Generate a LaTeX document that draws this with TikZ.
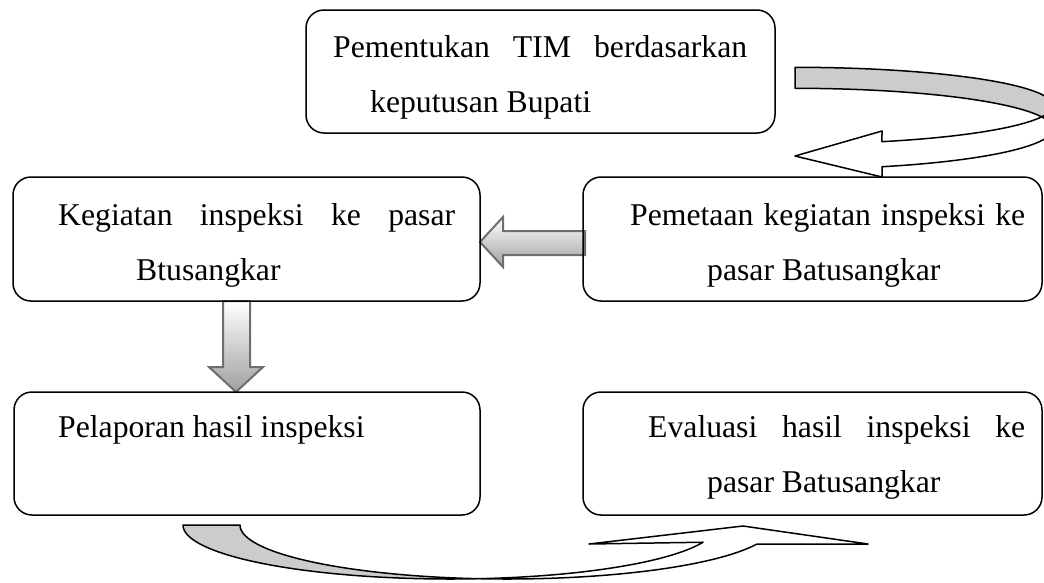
\documentclass[tikz,border=0pt]{standalone}
\usepackage{fontspec}
\setmainfont{Liberation Serif}
\definecolor{arrowedge}{HTML}{6E6E6E}
\definecolor{bandgrey}{HTML}{CCCCCC}
\begin{document}
\begin{tikzpicture}[x=1pt,y=-1pt,
  box/.style={draw=black, line width=1.5pt, rounded corners=18pt, inner sep=0pt},
  txt/.style={anchor=base west, inner sep=0pt, align=justify,
    font=\fontsize{31.7}{55}\selectfont, execute at begin node={\tolerance=10000\relax}},
  band/.style={line width=1.5pt, draw=black, line join=round},
  blockarrow/.style={top color=white, bottom color=gray!75, draw=arrowedge, line width=2pt, line join=miter}]
\useasboundingbox (0,0) rectangle (1044,582);
\clip (0,0) rectangle (1044,582);

% curved arrow: top box -> Pemetaan box
\filldraw[band, fill=bandgrey]
  plot[domain=-90:17.07, samples=80, variable=\t] ({795+258*cos(\t)},{105.6+38.3*sin(\t)})
  -- plot[domain=-17.07:-90, samples=80, variable=\t] ({795+258*cos(\t)},{128.7+40.4*sin(\t)})
  -- cycle;
\filldraw[band, fill=white]
  plot[domain=17.07:70.3, samples=60, variable=\t] ({795+258*cos(\t)},{105.6+38.3*sin(\t)})
  -- (882,131) -- (795,156) -- (882,177) -- (882,166.7)
  -- plot[domain=70.3:-17.07, samples=60, variable=\t] ({795+258*cos(\t)},{128.7+40.4*sin(\t)})
  -- cycle;

% curved arrow: Pelaporan box -> Evaluasi box
\filldraw[band, fill=bandgrey]
  plot[domain=180:83.9, samples=80, variable=\t] ({450+267*cos(\t)},{525+54*sin(\t)})
  -- plot[domain=96.1:180, samples=80, variable=\t] ({507+267*cos(\t)},{525+54*sin(\t)})
  -- cycle;
\filldraw[band, fill=white]
  plot[domain=83.9:18.6, samples=80, variable=\t] ({450+267*cos(\t)},{525+54*sin(\t)})
  -- (589,544) -- (743,526) -- (868,544) -- (757,544)
  -- plot[domain=20.6:96.1, samples=80, variable=\t] ({507+267*cos(\t)},{525+54*sin(\t)})
  -- cycle;

% block arrows
\shadedraw[blockarrow]
  (585,231) -- (503,231) -- (503,217) -- (480,242) -- (503,267) -- (503,255) -- (585,255) -- cycle;
\shadedraw[blockarrow]
  (223,301) -- (250,301) -- (250,367) -- (263,367) -- (236,392) -- (209,367) -- (223,367) -- cycle;

% boxes
\node[box, minimum width=469pt, minimum height=123pt] (tim) at (540.5,71.5) {};
\node[box, minimum width=467pt, minimum height=124pt] (kegiatan) at (246.5,239) {};
\node[box, minimum width=459pt, minimum height=124pt] (pemetaan) at (812.5,239) {};
\node[box, minimum width=466pt, minimum height=123pt] (pelaporan) at (247,453.5) {};
\node[box, minimum width=459pt, minimum height=123pt] (evaluasi) at (812.5,453.5) {};

% texts
\node[txt, text width=414pt] (timtext) at (333,57) {Pementukan TIM berdasarkan\linebreak\hspace*{37pt}keputusan Bupati};
\node[txt, text width=397pt] (kegiatantext) at (58,225) {Kegiatan inspeksi ke pasar\linebreak\hspace*{78pt}Btusangkar};
\node[txt, text width=395pt] (pemetaantext) at (630,225) {Pemetaan kegiatan inspeksi ke\linebreak\hspace*{77pt}pasar Batusangkar};
\node[txt, text width=330pt] (pelaporantext) at (58,437) {Pelaporan hasil inspeksi};
\node[txt, text width=377pt] (evaluasitext) at (648,437) {Evaluasi hasil inspeksi ke\linebreak\hspace*{59pt}pasar Batusangkar};
\end{tikzpicture}
\end{document}
